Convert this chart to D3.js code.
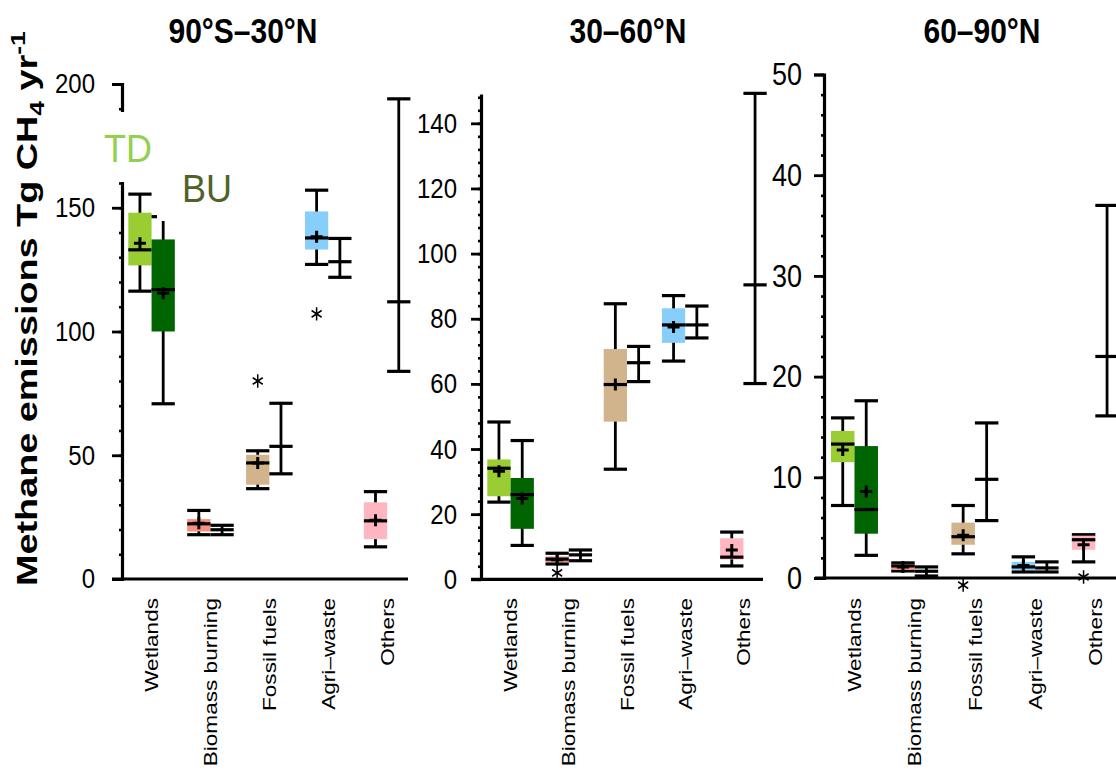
<!DOCTYPE html>
<html>
<head>
<meta charset="utf-8">
<script src="https://cdn.jsdelivr.net/npm/d3@7"></script>
<style>
  html, body { margin: 0; padding: 0; background: #fff; }
  svg { display: block; }
</style>
</head>
<body>
<svg id="chart" width="1116" height="771"></svg>
<script>
// ---- data ---------------------------------------------------------------
const regions = ["90°S–30°N", "30–60°N", "60–90°N"];
const categories = ["Wetlands", "Biomass burning", "Fossil fuels", "Agri–waste", "Others"];
const boxColors = ["#9acd32", "#f6907f", "#d2b48c", "#87cefa", "#ffb6c1"];
const buWetlandColor = "#006400";

// Top-down boxes: [low whisker, Q1, median, Q3, high whisker, mean]
const tdTropics = [
  [116.3, 126.7, 133.0, 148.0, 155.5, 135.7],
  [17.9, 19.2, 22.3, 24.2, 27.7, 22.5],
  [36.5, 38.1, 46.9, 50.2, 51.8, 46.9],
  [127.1, 133.1, 137.8, 148.5, 157.1, 138.3],
  [13.0, 16.1, 23.5, 31.0, 35.3, 23.7]
];
const tdMidlat = [
  [23.7, 25.5, 34.1, 36.8, 48.3, 33.2],
  [4.7, 5.3, 6.2, 7.0, 8.0, 6.0],
  [33.8, 48.4, 59.8, 70.7, 84.6, 59.8],
  [67.0, 72.6, 78.1, 83.2, 87.1, 77.5],
  [4.1, 6.1, 6.8, 12.6, 14.5, 9.0]
];
const tdHighlat = [
  [7.2, 11.5, 13.3, 14.6, 15.9, 12.7],
  [0.7, 0.8, 1.2, 1.4, 1.5, 1.1],
  [2.4, 3.3, 4.1, 5.5, 7.2, 4.25],
  [0.6, 0.8, 1.1, 1.6, 2.1, 1.25],
  [1.6, 2.8, 3.8, 4.2, 4.3, 3.3]
];

// Bottom-up wetlands boxes: [low whisker, Q1, median, Q3, high whisker, mean]
const buWetTropics = [70.8, 100.0, 116.9, 137.2, 146.4, 115.5];
const buWetMidlat = [10.4, 15.5, 26.0, 31.1, 42.6, 24.8];
const buWetHighlat = [2.25, 4.4, 6.8, 13.1, 17.6, 8.6];

// Bottom-up ranges for the other categories: [min, mean, max]
const buRangeTropics = [null, [17.9, 19.9, 21.7], [42.5, 53.6, 71.0], [121.9, 128.2, 137.6], [83.9, 112.0, 194.0]];
const buRangeMidlat = [null, [5.7, 7.5, 9.0], [60.7, 66.5, 71.5], [74.1, 78.1, 83.9], [60.1, 90.4, 149.2]];
const buRangeHighlat = [null, [0.2, 0.67, 1.1], [5.7, 9.8, 15.4], [0.6, 1.0, 1.6], [16.1, 22.0, 37.0]];

// Top-down outliers: [category, value]
const outTropics = [["Fossil fuels", 80.0], ["Agri–waste", 107.1]];
const outMidlat = [["Biomass burning", 2.0]];
const outHighlat = [["Fossil fuels", -0.7], ["Others", 0.1]];

// Axis tick labels
const ticksTropics = [0, 50, 100, 150, 200];
const ticksMidlat = [0, 20, 40, 60, 80, 100, 120, 140];
const ticksHighlat = [0, 10, 20, 30, 40, 50];

// ---- layout -------------------------------------------------------------
const panels = [
  { title: regions[0], td: tdTropics, buWet: buWetTropics, buRange: buRangeTropics, out: outTropics,
    ticks: ticksTropics, minorStep: 10, axisTop: 200, y0: 579, yTop: 84, axisX: 122,
    band: [128.3, 410.4], pad: 0.21, base: [112, 408], tickFont: 24, gap: 17, outer: 10, titleX: 243 },
  { title: regions[1], td: tdMidlat, buWet: buWetMidlat, buRange: buRangeMidlat, out: outMidlat,
    ticks: ticksMidlat, minorStep: 4, axisTop: 149, y0: 579.3, yTop: 94, axisX: 481,
    band: [487.3, 766.7], pad: 0.2, base: [471, 763], tickFont: 24, gap: 14, outer: 0, titleX: 628 },
  { title: regions[2], td: tdHighlat, buWet: buWetHighlat, buRange: buRangeHighlat, out: outHighlat,
    ticks: ticksHighlat, minorStep: 2, axisTop: 50, y0: 578, yTop: 74.5, axisX: 824,
    band: [831, 1118.8], pad: 0.22, base: [815, 1116], tickFont: 27, gap: 12, outer: 10, titleX: 982 }
];

const FONT = "'Liberation Sans', Arial, Helvetica, sans-serif";
const svg = d3.select("#chart");
const asterisk = d3.symbol(d3.symbolAsterisk || d3.symbolCross, 95);

panels.forEach(p => {
  const g = svg.append("g");
  const y = d3.scaleLinear().domain([0, p.axisTop]).range([p.y0, p.yTop]);
  const x = d3.scaleBand().domain(categories).range(p.band).paddingInner(p.pad).paddingOuter(0);
  const sub = d3.scaleBand().domain(["TD", "BU"]).range([0, x.bandwidth()]);
  const bw = sub.bandwidth();
  const cx = (cat, kind) => x(cat) + sub(kind) + bw / 2;

  // panel title
  g.append("text")
    .attr("transform", `translate(${p.titleX},43) scale(1,1.17)`)
    .attr("text-anchor", "middle")
    .attr("font-family", FONT).attr("font-weight", "bold").attr("font-size", 30)
    .text(p.title);

  // x baseline
  g.append("line")
    .attr("x1", p.base[0]).attr("x2", p.base[1])
    .attr("y1", y(0)).attr("y2", y(0))
    .attr("stroke", "#000").attr("stroke-width", 3.2);

  // minor ticks
  const gm = g.append("g").attr("transform", `translate(${p.axisX},0)`)
    .call(d3.axisLeft(y).tickValues(d3.range(0, p.axisTop + 0.001, p.minorStep)).tickSize(3).tickFormat(""));
  gm.select(".domain").remove();
  gm.selectAll(".tick line").attr("stroke-width", 2.6);

  // major ticks and labels
  const ga = g.append("g").attr("transform", `translate(${p.axisX},0)`)
    .call(d3.axisLeft(y).tickValues(p.ticks).tickSize(10).tickSizeOuter(p.outer).tickPadding(p.gap).tickFormat(d3.format("d")));
  ga.select(".domain").attr("stroke-width", 3.2);
  ga.selectAll(".tick line").attr("stroke-width", 2.8);
  ga.selectAll(".tick text")
    .attr("font-family", FONT).attr("font-size", p.tickFont).attr("fill", "#000")
    .attr("transform", "scale(1,1.17)");

  const plus = (px, py) => `M${px - 6},${py}h12M${px},${py - 6}v12`;

  const drawBox = (xc, s, fill) => {
    const [lo, q1, med, q3, hi, mean] = s;
    g.append("line").attr("x1", xc).attr("x2", xc).attr("y1", y(lo)).attr("y2", y(hi))
      .attr("stroke", "#000").attr("stroke-width", 2.8);
    [lo, hi].forEach(v => g.append("line")
      .attr("x1", xc - bw / 2).attr("x2", xc + bw / 2).attr("y1", y(v)).attr("y2", y(v))
      .attr("stroke", "#000").attr("stroke-width", 3.2));
    g.append("rect").attr("x", xc - bw / 2).attr("width", bw)
      .attr("y", y(q3)).attr("height", y(q1) - y(q3)).attr("fill", fill);
    g.append("line").attr("x1", xc - bw / 2).attr("x2", xc + bw / 2).attr("y1", y(med)).attr("y2", y(med))
      .attr("stroke", "#000").attr("stroke-width", 3.2);
    g.append("path").attr("d", plus(xc, y(mean))).attr("stroke", "#000").attr("stroke-width", 3).attr("fill", "none");
  };

  const drawRange = (xc, r) => {
    const [mn, mean, mx] = r;
    g.append("line").attr("x1", xc).attr("x2", xc).attr("y1", y(mn)).attr("y2", y(mx))
      .attr("stroke", "#000").attr("stroke-width", 2.8);
    [mn, mean, mx].forEach(v => g.append("line")
      .attr("x1", xc - bw / 2).attr("x2", xc + bw / 2).attr("y1", y(v)).attr("y2", y(v))
      .attr("stroke", "#000").attr("stroke-width", 3.2));
  };

  categories.forEach((c, i) => {
    drawBox(cx(c, "TD"), p.td[i], boxColors[i]);
    if (i === 0) drawBox(cx(c, "BU"), p.buWet, buWetlandColor);
    else drawRange(cx(c, "BU"), p.buRange[i]);
  });

  // outliers
  p.out.forEach(([c, v]) => {
    g.append("path").attr("d", asterisk)
      .attr("transform", `translate(${cx(c, "TD")},${y(v)}) scale(1,1.15)`)
      .attr("fill", "none").attr("stroke", "#000").attr("stroke-width", 1.5);
  });

  // category labels
  categories.forEach(c => {
    g.append("text")
      .attr("transform", `translate(${x(c) + x.bandwidth() / 2},598) rotate(-90) scale(1.19,1)`)
      .attr("text-anchor", "end").attr("dy", "0.35em")
      .attr("font-family", FONT).attr("font-size", 19)
      .text(c);
  });
});

// y-axis title
const yt = svg.append("text")
  .attr("transform", "translate(37,586) rotate(-90) scale(1.26,1)")
  .attr("font-family", FONT).attr("font-weight", "bold").attr("font-size", 30);
yt.append("tspan").text("Methane emissions Tg CH");
yt.append("tspan").attr("font-size", 21).attr("dy", 7).text("4");
yt.append("tspan").attr("dy", -7).text(" yr");
yt.append("tspan").attr("font-size", 21).attr("dy", -12).text("-1");

// TD / BU key, set on white patches
svg.append("rect").attr("x", 98).attr("y", 112).attr("width", 60).attr("height", 70).attr("fill", "#fff");
svg.append("rect").attr("x", 157).attr("y", 168).attr("width", 85).attr("height", 53).attr("fill", "#fff");
svg.append("text").attr("transform", "translate(104,162) scale(1,1.1)")
  .attr("font-family", FONT).attr("font-size", 36).attr("fill", "#92d050").text("TD");
svg.append("text").attr("transform", "translate(182,202) scale(1,1.1)")
  .attr("font-family", FONT).attr("font-size", 36).attr("fill", "#4f6228").text("BU");
</script>
</body>
</html>
